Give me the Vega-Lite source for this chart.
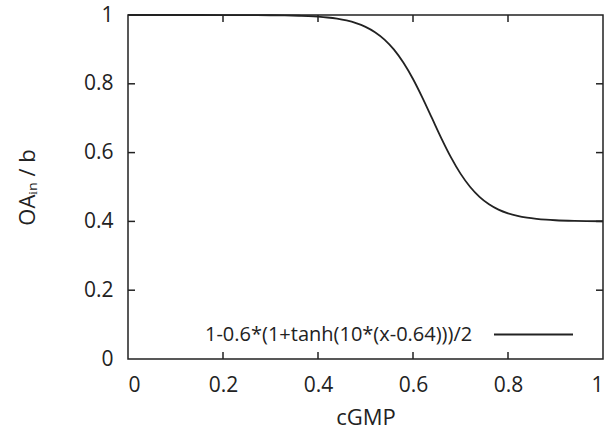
{
  "$schema": "https://vega.github.io/schema/vega-lite/v6.json",
  "width": 475,
  "height": 344,
  "autosize": {"type": "none"},
  "padding": {"left": 128, "top": 15, "right": 4, "bottom": 75},
  "background": "white",
  "config": {
    "font": "Open Sans",
    "view": {"stroke": "#222", "strokeWidth": 1.5},
    "axis": {
      "domain": false,
      "ticks": false,
      "grid": false,
      "labelFont": "Open Sans",
      "labelFontSize": 21,
      "labelColor": "#222",
      "titleFont": "Open Sans",
      "titleFontSize": 22,
      "titleFontWeight": "normal",
      "titleColor": "#222"
    }
  },
  "datasets": {
    "curve": [
      {"x": 0.0, "y": 1.0, "series": "1-0.6*(1+tanh(10*(x-0.64)))/2"},
      {"x": 0.1, "y": 0.99999, "series": "1-0.6*(1+tanh(10*(x-0.64)))/2"},
      {"x": 0.2, "y": 0.99991, "series": "1-0.6*(1+tanh(10*(x-0.64)))/2"},
      {"x": 0.25, "y": 0.99975, "series": "1-0.6*(1+tanh(10*(x-0.64)))/2"},
      {"x": 0.3, "y": 0.99933, "series": "1-0.6*(1+tanh(10*(x-0.64)))/2"},
      {"x": 0.33, "y": 0.99879, "series": "1-0.6*(1+tanh(10*(x-0.64)))/2"},
      {"x": 0.36, "y": 0.99779, "series": "1-0.6*(1+tanh(10*(x-0.64)))/2"},
      {"x": 0.38, "y": 0.99671, "series": "1-0.6*(1+tanh(10*(x-0.64)))/2"},
      {"x": 0.4, "y": 0.9951, "series": "1-0.6*(1+tanh(10*(x-0.64)))/2"},
      {"x": 0.42, "y": 0.99272, "series": "1-0.6*(1+tanh(10*(x-0.64)))/2"},
      {"x": 0.44, "y": 0.98921, "series": "1-0.6*(1+tanh(10*(x-0.64)))/2"},
      {"x": 0.46, "y": 0.98404, "series": "1-0.6*(1+tanh(10*(x-0.64)))/2"},
      {"x": 0.48, "y": 0.9765, "series": "1-0.6*(1+tanh(10*(x-0.64)))/2"},
      {"x": 0.5, "y": 0.9656, "series": "1-0.6*(1+tanh(10*(x-0.64)))/2"},
      {"x": 0.52, "y": 0.9501, "series": "1-0.6*(1+tanh(10*(x-0.64)))/2"},
      {"x": 0.54, "y": 0.92848, "series": "1-0.6*(1+tanh(10*(x-0.64)))/2"},
      {"x": 0.56, "y": 0.89921, "series": "1-0.6*(1+tanh(10*(x-0.64)))/2"},
      {"x": 0.58, "y": 0.86112, "series": "1-0.6*(1+tanh(10*(x-0.64)))/2"},
      {"x": 0.6, "y": 0.81399, "series": "1-0.6*(1+tanh(10*(x-0.64)))/2"},
      {"x": 0.62, "y": 0.75921, "series": "1-0.6*(1+tanh(10*(x-0.64)))/2"},
      {"x": 0.64, "y": 0.7, "series": "1-0.6*(1+tanh(10*(x-0.64)))/2"},
      {"x": 0.66, "y": 0.64079, "series": "1-0.6*(1+tanh(10*(x-0.64)))/2"},
      {"x": 0.68, "y": 0.58601, "series": "1-0.6*(1+tanh(10*(x-0.64)))/2"},
      {"x": 0.7, "y": 0.53888, "series": "1-0.6*(1+tanh(10*(x-0.64)))/2"},
      {"x": 0.72, "y": 0.50079, "series": "1-0.6*(1+tanh(10*(x-0.64)))/2"},
      {"x": 0.74, "y": 0.47152, "series": "1-0.6*(1+tanh(10*(x-0.64)))/2"},
      {"x": 0.76, "y": 0.4499, "series": "1-0.6*(1+tanh(10*(x-0.64)))/2"},
      {"x": 0.78, "y": 0.4344, "series": "1-0.6*(1+tanh(10*(x-0.64)))/2"},
      {"x": 0.8, "y": 0.4235, "series": "1-0.6*(1+tanh(10*(x-0.64)))/2"},
      {"x": 0.82, "y": 0.41596, "series": "1-0.6*(1+tanh(10*(x-0.64)))/2"},
      {"x": 0.84, "y": 0.41079, "series": "1-0.6*(1+tanh(10*(x-0.64)))/2"},
      {"x": 0.86, "y": 0.4073, "series": "1-0.6*(1+tanh(10*(x-0.64)))/2"},
      {"x": 0.88, "y": 0.4049, "series": "1-0.6*(1+tanh(10*(x-0.64)))/2"},
      {"x": 0.9, "y": 0.4033, "series": "1-0.6*(1+tanh(10*(x-0.64)))/2"},
      {"x": 0.94, "y": 0.40148, "series": "1-0.6*(1+tanh(10*(x-0.64)))/2"},
      {"x": 1.0, "y": 0.40045, "series": "1-0.6*(1+tanh(10*(x-0.64)))/2"}
    ],
    "tickvals": [{"v": 0.2}, {"v": 0.4}, {"v": 0.6}, {"v": 0.8}]
  },
  "layer": [
    {
      "data": {"name": "curve"},
      "mark": {"type": "line", "strokeWidth": 1.8, "interpolate": "monotone"},
      "encoding": {
        "x": {
          "field": "x", "type": "quantitative",
          "scale": {"domain": [0, 1], "nice": false, "zero": false},
          "axis": {"orient": "bottom", "title": "cGMP", "values": [0, 0.2, 0.4, 0.6, 0.8, 1], "format": "~g", "labelPadding": 15, "titlePadding": 12}
        },
        "y": {
          "field": "y", "type": "quantitative",
          "scale": {"domain": [0, 1], "nice": false, "zero": false},
          "axis": {"orient": "left", "title": "OAᵢₙ / b", "values": [0, 0.2, 0.4, 0.6, 0.8, 1], "format": "~g", "labelPadding": 15, "titlePadding": 44}
        },
        "color": {
          "field": "series", "type": "nominal",
          "scale": {"range": ["#222"]},
          "legend": {
            "title": null,
            "orient": "none",
            "legendX": 80,
            "legendY": 279,
            "symbolType": "stroke",
            "symbolSize": 6241,
            "symbolStrokeWidth": 1.8,
            "symbolOffset": 285,
            "labelOffset": -369,
            "labelFont": "Open Sans",
            "labelFontSize": 20,
            "labelColor": "#222",
            "labelLimit": 400
          }
        }
      }
    },
    {
      "data": {"name": "tickvals"},
      "mark": {"type": "tick", "orient": "vertical", "color": "#222", "size": 14, "thickness": 1.5, "clip": true, "opacity": 1},
      "encoding": {
        "x": {"field": "v", "type": "quantitative"},
        "y": {"datum": 0, "type": "quantitative"}
      }
    },
    {
      "data": {"name": "tickvals"},
      "mark": {"type": "tick", "orient": "vertical", "color": "#222", "size": 14, "thickness": 1.5, "clip": true, "opacity": 1},
      "encoding": {
        "x": {"field": "v", "type": "quantitative"},
        "y": {"datum": 1, "type": "quantitative"}
      }
    },
    {
      "data": {"name": "tickvals"},
      "mark": {"type": "tick", "orient": "horizontal", "color": "#222", "size": 14, "thickness": 1.5, "clip": true, "opacity": 1},
      "encoding": {
        "y": {"field": "v", "type": "quantitative"},
        "x": {"datum": 0, "type": "quantitative"}
      }
    },
    {
      "data": {"name": "tickvals"},
      "mark": {"type": "tick", "orient": "horizontal", "color": "#222", "size": 14, "thickness": 1.5, "clip": true, "opacity": 1},
      "encoding": {
        "y": {"field": "v", "type": "quantitative"},
        "x": {"datum": 1, "type": "quantitative"}
      }
    }
  ]
}
